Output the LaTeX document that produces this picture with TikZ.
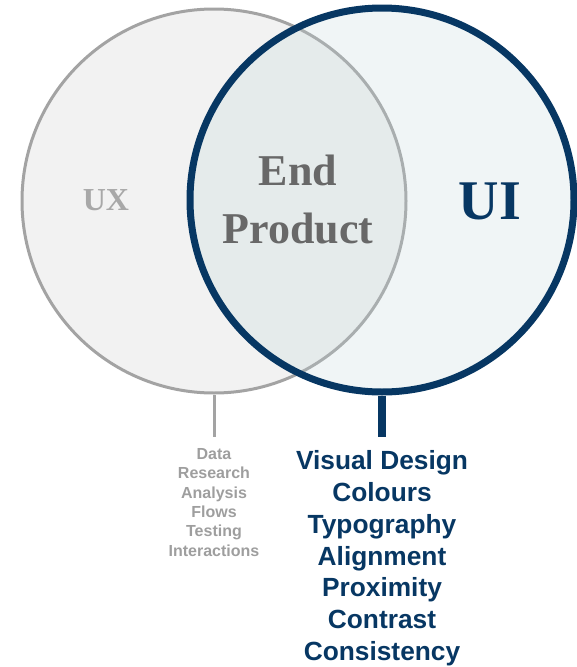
\documentclass[tikz,border=0pt]{standalone}
\usepackage{fontspec}
\setmainfont{Liberation Serif}
\setsansfont{Liberation Sans}
\usetikzlibrary{positioning}

\definecolor{uxline}{HTML}{A3A3A3}
\definecolor{uxfill}{HTML}{F2F2F2}
\definecolor{uxtext}{HTML}{A8A8A8}
\definecolor{endtext}{HTML}{686868}
\definecolor{uiblue}{HTML}{073763}
\definecolor{uitint}{HTML}{BED4D8}
\definecolor{listgray}{HTML}{9E9E9E}

\tikzset{
    ring/.style={circle, minimum size=384pt, inner sep=0pt},
    bigword/.style={font=\bfseries\fontsize{#1}{#1}\selectfont},
}

\begin{document}
\begin{tikzpicture}[x=1pt, y=1pt]
        \useasboundingbox (0, 0) rectangle (577, -667);
        % the two circles
        \node[ring, draw=uxline, fill=uxfill, line width=3pt] (ux) at (214, -201) {};
        \node[ring, draw=uiblue, fill=uitint, fill opacity=0.23, line width=7pt] (ui) at (382, -200) {};
        % labels inside
        \node[bigword=32, text=uxtext] (uxlabel) at (106, -200) {UX};
        \node[bigword=44, text=endtext, align=center, execute at begin node=\setlength{\baselineskip}{58pt}] (endlabel) at (298, -199) {End\\Product};
        \node[bigword=56, text=uiblue] (uilabel) at (490, -201) {UI};
        % lists below
        \node[below=42.5pt of ux, inner ysep=11pt, align=center, text=listgray,
              font=\sffamily\bfseries\fontsize{16}{19.4}\selectfont] (uxitems)
              {Data\\Research\\Analysis\\Flows\\Testing\\Interactions};
        \node[below=41.5pt of ui, inner ysep=13.5pt, align=center, text=uiblue,
              font=\sffamily\bfseries\fontsize{26.3}{31.8}\selectfont] (uiitems)
              {Visual Design\\Colours\\Typography\\Alignment\\Proximity\\Contrast\\Consistency};
        \draw[uxline, line width=3pt] (ux.south) -- (uxitems.north);
        \draw[uiblue, line width=8pt] (ui.south) -- (uiitems.north);
    \end{tikzpicture}
\end{document}
